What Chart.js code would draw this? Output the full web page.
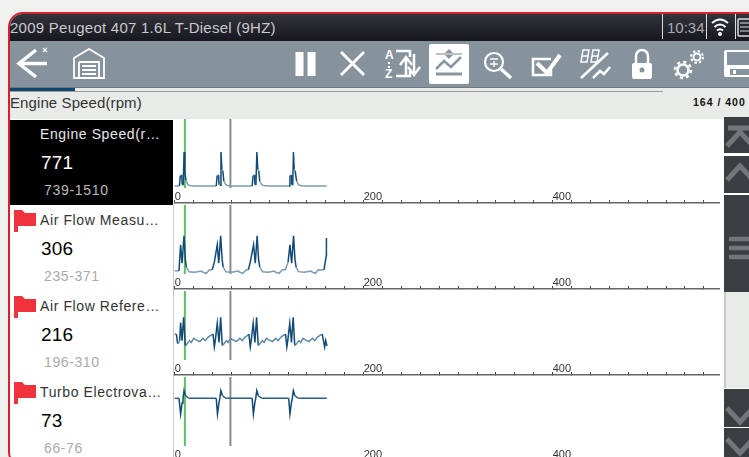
<!DOCTYPE html>
<html><head><meta charset="utf-8"><title>Scan data</title>
<script src="https://cdn.jsdelivr.net/npm/chart.js@4"></script>
<style>
html,body{margin:0;padding:0;width:749px;height:457px;overflow:hidden;background:#f0f1ef;font-family:"Liberation Sans",Arial,sans-serif}
.abs,canvas,svg{position:absolute}
#frame{left:8px;top:12px;width:760px;height:455px;border:2px solid #d8202c;border-radius:15px;box-sizing:border-box;background:#fff;overflow:hidden}
#hdr{left:10px;top:14px;width:739px;height:27px;background:linear-gradient(#33343b,#16171f);border-top-left-radius:13px}
#tb{left:10px;top:41px;width:739px;height:46px;background:#87939c;border-bottom:1px solid #6d777f}
#strip{left:10px;top:88px;width:739px;height:31px;background:#e9ebe9}
.t{position:absolute;white-space:nowrap;line-height:1}
.sel{left:10px;top:120px;width:163px;height:85px;background:#000}
.bar{left:724px;width:25px;background:#3a3e42}
</style></head><body>
<div class="abs" id="frame"></div>
<div class="abs" id="hdr"></div>
<div class="t" style="left:10px;top:20px;font-size:15px;letter-spacing:.25px;color:#c9cacc">2009 Peugeot 407 1.6L T-Diesel (9HZ)</div>
<div class="abs" style="left:662px;top:14px;width:1px;height:25px;background:#ddd"></div>
<div class="t" style="left:667px;top:20px;font-size:15px;color:#a9abaf">10:34</div>
<div class="abs" style="left:706px;top:14px;width:1px;height:25px;background:#ddd"></div>
<div class="abs" style="left:735px;top:14px;width:1px;height:25px;background:#ddd"></div>
<svg style="left:710px;top:16px" width="39" height="24" fill="none" stroke="#fff">
<path d="M2 7Q10 0 18 7M4.500 11Q10 6 15.500 11M7 14.500Q10 12 13 14.500" stroke-width="2"/><circle cx="10" cy="18" r="2" fill="#fff" stroke="none"/>
<rect x="28" y="3" width="14" height="17" rx="1" stroke="#ddd" stroke-width="1.500"/><path d="M30 7h10M30 11h10M30 15h10" stroke="#ddd"/></svg>
<div class="abs" id="tb"></div>
<svg style="left:10px;top:41px" width="739" height="46" fill="none" stroke="#fff" stroke-width="3.500">
<path d="M10 22.500H37M26 9L9 22.500L26 36" stroke-width="3.500"/><path d="M33 7l4 4M37 7l-4 4" stroke-width="1.200"/>
<g stroke-width="1.800"><path d="M64 17L79 8L94 17V37H64Z"/><path d="M69 21H89V37M69 21V37M72 25H86M72 29H86M72 33H86"/></g>
<path d="M289.500 11V35M301.500 11V35" stroke-width="8"/>
<path d="M331 11L354 34M354 11L331 34" stroke-width="3"/>
<g stroke-width="2.500"><path d="M386 10H400V16M386 35H400V30"/><path d="M396 35V18M390 24L396 16L402 24"/><path d="M404 13V32M398 26L404 34L410 26"/></g>
<text x="375" y="18" font-size="12" font-weight="bold" fill="#fff" stroke="none" font-family="Liberation Sans">A</text>
<text x="375" y="37" font-size="12" font-weight="bold" fill="#fff" stroke="none" font-family="Liberation Sans">Z</text>
<path d="M379 21v2M379 25v2" stroke-width="2"/>
<rect x="419" y="3" width="40" height="40" rx="2" fill="#fff" stroke="none"/>
<g stroke="#8a969f" stroke-width="2.500"><path d="M426 28L434 20L441 26L451 16"/><path d="M426 33H452" stroke-width="3"/><path d="M426 13H452" stroke-width="1.200"/><path d="M439 8l-4 4h8zM439 18l-4-4h8z" fill="#8a969f" stroke="none"/></g>
<g stroke-width="2.200"><circle cx="484" cy="21" r="9"/><path d="M480 18H488M480 23H488M484 20V26" stroke-width="1.300"/><path d="M491 28L501 37" stroke-width="3.500"/></g>
<path d="M541 18H523V34H541V28" stroke-width="2.500"/><path d="M527 22L537 32L550 14" stroke-width="4"/>
<g stroke-width="1.500"><path d="M573 9H579L577 21H571ZM583 9H589L587 21H581ZM572 15H578M582 15H588"/><path d="M571 37L598 12" stroke-width="2.500"/><path d="M583 37L590 30L594 33L600 26" stroke-width="2.500"/></g>
<rect x="622" y="22" width="20" height="16" rx="2" fill="#fff" stroke="none"/><path d="M626 22V15A6 6 0 0 1 638 15V22" stroke-width="2.500"/><circle cx="632" cy="29" r="2.500" fill="#87939c" stroke="none"/>
<circle cx="673" cy="29" r="5.500" stroke-width="2.500"/><circle cx="673" cy="29" r="8" stroke-dasharray="3 3.300" stroke-width="2.500"/><circle cx="687" cy="16" r="3.500" stroke-width="2"/><circle cx="687" cy="16" r="6" stroke-dasharray="2.400 2.300" stroke-width="2"/>
<rect x="714" y="9" width="30" height="27" rx="2" fill="#fff" stroke="none"/><rect x="717" y="11" width="30" height="13" fill="#87939c" stroke="none"/><rect x="720" y="28" width="24" height="6" fill="#87939c" stroke="none"/><rect x="723" y="29" width="3" height="4" fill="#fff" stroke="none"/>
</svg>
<div class="abs" id="strip"></div>
<div class="abs" style="left:10px;top:91px;width:653px;height:1px;background:#9a9c9c"></div>
<div class="abs" style="left:10px;top:88px;width:65px;height:3px;background:#10476e"></div>
<div class="t" style="left:10px;top:95px;font-size:15px;letter-spacing:.1px;color:#333">Engine Speed(rpm)</div>
<div class="t" style="left:693px;top:97px;font-size:10.500px;font-weight:bold;letter-spacing:1px;color:#111">164 / 400</div>

<div class="abs sel"></div>
<div class="t" style="left:40px;top:127px;font-size:14px;letter-spacing:.6px;color:#e8e8e8">Engine Speed(r…</div>
<div class="t" style="left:41px;top:153px;font-size:19px;letter-spacing:.2px;color:#fff">771</div>
<div class="t" style="left:44px;top:183px;font-size:14px;letter-spacing:.7px;color:#bbb">739-1510</div>

<div class="t" style="left:40px;top:213px;font-size:14px;letter-spacing:.6px;color:#333">Air Flow Measu…</div>
<div class="t" style="left:41px;top:239px;font-size:19px;letter-spacing:.2px;color:#000">306</div>
<div class="t" style="left:44px;top:269px;font-size:14px;letter-spacing:.6px;color:#aaa">235-371</div>

<div class="t" style="left:40px;top:299px;font-size:14px;letter-spacing:.6px;color:#333">Air Flow Refere…</div>
<div class="t" style="left:41px;top:325px;font-size:19px;letter-spacing:.2px;color:#000">216</div>
<div class="t" style="left:44px;top:355px;font-size:14px;letter-spacing:.6px;color:#aaa">196-310</div>

<div class="t" style="left:40px;top:385px;font-size:14px;letter-spacing:.6px;color:#333">Turbo Electrova…</div>
<div class="t" style="left:41px;top:411px;font-size:19px;letter-spacing:.2px;color:#000">73</div>
<div class="t" style="left:44px;top:441px;font-size:14px;letter-spacing:.6px;color:#aaa">66-76</div>

<svg style="left:14px;top:210px" width="23" height="224" fill="#f0323c">
<path id="fl" d="M0 0H8L11 3H22V16H4V22H0Z"/>
<use href="#fl" y="86"/><use href="#fl" y="172"/></svg>

<div class="abs" style="left:173px;top:205px;width:1px;height:252px;background:#c8c8c8"></div>
<canvas id="c0" width="546" height="86" style="left:174px;top:119px"></canvas>
<canvas id="c1" width="546" height="86" style="left:174px;top:205px"></canvas>
<canvas id="c2" width="546" height="86" style="left:174px;top:291px"></canvas>
<canvas id="c3" width="546" height="86" style="left:174px;top:377px"></canvas>

<div class="abs bar" style="top:117px;height:36px"></div>
<div class="abs bar" style="top:156px;height:37px"></div>
<div class="abs bar" style="top:195px;height:97px"></div>
<div class="abs" style="left:724px;top:292px;width:25px;height:96px;background:#e9ebe9;border-left:2px solid #c9cbc9;box-sizing:border-box"></div>
<div class="abs bar" style="top:389px;height:38px"></div>
<div class="abs bar" style="top:428px;height:29px"></div>
<svg style="left:724px;top:117px" width="25" height="340" fill="none" stroke="#71767a" stroke-width="5">
<path d="M4 11H26M3 29L16 15L29 29"/><path d="M3 63L16 49L29 63"/>
<path d="M5 122H26M5 131H26M5 140H26" stroke-width="4.500"/>
<path d="M3 291L16 305L29 291"/><path d="M3 322L16 336L29 322"/></svg>

<script>
const tickLabels = [0, 200, 400];
const cursorGreen = 10.8, cursorGray = 59;

const engineX = [0,5,6,7.5,8,9,10,10.8,12,14,17,20, 44,45,46.5,47,48,49,50,51,52,54,57,60, 82,83,84.5,85,86,87,88,89,90,92,95,98, 121,122,123.5,124,125,125.7,126.5,127.5,129,131,134,137,161];
const engineY = [771,771,1000,1010,800,790,1510,1060,900,800,775,771, 771,1000,1010,800,790,1510,1130,1100,880,800,775,771, 771,1000,1010,800,790,1510,1130,1100,880,800,775,771, 771,1000,1010,800,790,1510,1130,1100,880,800,775,771,771];

const airMeasX = [0,4.600,6.300,7.800,9.900,11.300,12.300,15.200,21.200,24,28.200,30,33.500,37,39.800,42,45.100,46.600,48.700,50.200,51.300,54.200,60,63,67,69,72,76,78,80,83.500,85.300,87.300,88.800,90,93,99,102,105,107,110.500,114,117,120,122,123.800,125.800,127.300,128.500,131,137,140,144,146,149,152,155,158,160.500,160.600];
const airMeasY = [243,243,339,271,372,286,257,240,238,240,242,238,234,247,247,275,339,271,372,286,257,240,238,240,242,238,234,247,247,275,339,271,372,286,257,240,238,240,242,238,234,247,247,275,339,271,372,286,257,240,238,240,242,238,234,247,246,247,300,364];

const airRefX = [0,1.800,3.200,5.300,6.300,7.800,9.500,11.300,13,15.900,17.600,20.100,22.200,26.500,30,32.500,35.300,37.700,40.600,42,43,45.100,46.900,48.700,50.400,52,54.900,56.600,59.100,61.200,65.500,69,71.500,74.300,76.700,78.600,80,81,83.100,84.900,86.700,88.400,90,92.900,94.600,97.100,99.200,103.500,107,109.500,112.300,114.700,117.300,118.700,119.700,121.800,123.600,125.400,127.100,128.700,131.600,133.300,135.800,137.900,142.200,145.700,148.200,151,153.400,156.200,158.700,159.800,161.200];
const airRefY = [245,245,207,220,290,220,311,199,207,220,213,229,224,216,229,220,233,239,245,195,220,288,213,311,201,207,220,213,229,224,216,229,220,233,239,245,195,220,288,213,311,201,207,220,213,229,224,216,229,220,233,239,245,195,220,288,213,311,201,207,220,213,229,224,216,229,220,233,239,245,195,220,199];

const turboX = [0,4.600,6.300,7.800,8.800,9.900,11.600,14.100,15.900,44,45.300,46.800,47.800,48.900,50.600,53.100,55,82,83.300,84.800,85.800,86.900,88.600,91.100,93,120.700,122,123.500,124.500,125.600,127.300,129.800,132,161];
const turboY = [72.700,72.700,66,70.700,72.700,76,73.800,73,72.700,72.700,66,70.700,72.700,76,73.800,73,72.700,72.700,66,70.700,72.700,76,73.800,73,72.700,72.700,66,70.700,72.700,76,73.800,73,72.700,72.700];

const yRanges = [[402.300,2226],[176.300,485],[86.200,413],[46,81.800]];
const series = [[engineX,engineY],[airMeasX,airMeasY],[airRefX,airRefY],[turboX,turboY]];
const lightColors = ['#7d9cb3','#7d9cb3','#5f89a6','#2c5f80'];
const darkColor = '#124a76';

series.forEach(([xs, ys], i) => {
  const [yMin, yMax] = yRanges[i];
  const cursorEnd = yMax - (69/84)*(yMax - yMin);
  const light = lightColors[i];
  new Chart(document.getElementById('c'+i), {
    type: 'line',
    data: { datasets: [
      { data: xs.map((x,k)=>({x, y: ys[k]})), order: 1, borderWidth: 1.5, pointRadius: 0, tension: 0, borderColor: light,
        segment: { borderColor: c => Math.abs(c.p1.y-c.p0.y) > 3*Math.abs(c.p1.x-c.p0.x) ? darkColor : light } },
      { data: [{x:cursorGreen,y:yMax},{x:cursorGreen,y:cursorEnd}], order: 2, borderColor:'#5dc060', borderWidth:2, pointRadius:0 },
      { data: [{x:cursorGray,y:yMax},{x:cursorGray,y:cursorEnd}], order: 3, borderColor:'#8c8c8c', borderWidth:2, pointRadius:0 }
    ]},
    options: {
      responsive:false, animation:false, devicePixelRatio:1,
      layout:{padding:0},
      plugins:{legend:{display:false},tooltip:{enabled:false}},
      scales:{
        y:{display:false,min:yMin,max:yMax},
        x:{type:'linear',min:-0.7,max:577.1,
          afterFit:s=>{s.height=2;s.paddingLeft=0;s.paddingRight=0},
          border:{color:'#666',width:1.5},
          grid:{drawOnChartArea:false,tickLength:-3,color:'#444'},
          ticks:{stepSize:20,includeBounds:false,autoSkip:false,maxRotation:0,align:'start',mirror:true,padding:-1,color:'#333',
            font:{size:11,family:'Liberation Sans'},
            callback:v=>tickLabels.includes(v)?String(v):''}
        }
      }
    }
  });
});
</script>
</body></html>
